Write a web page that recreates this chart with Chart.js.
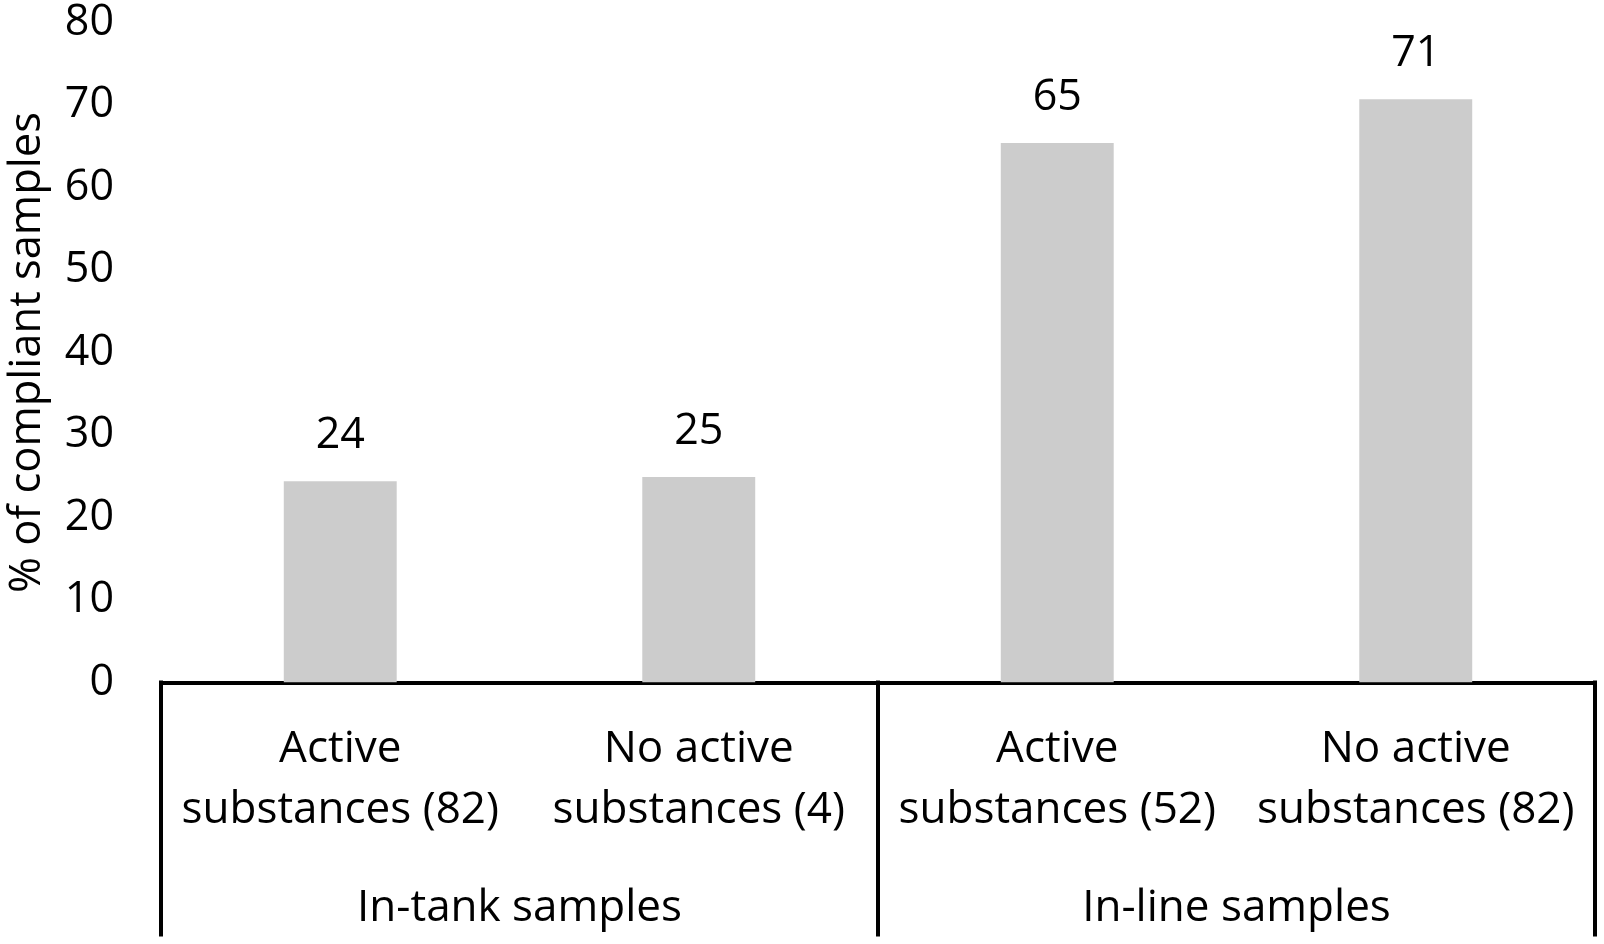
<!DOCTYPE html>
<html>
<head>
<meta charset="utf-8">
<script src="https://cdn.jsdelivr.net/npm/chart.js@4.4.1/dist/chart.umd.min.js"></script>
<style>
html,body{margin:0;padding:0;background:#fff;}
#wrap{width:1604px;height:944px;position:relative;}
</style>
</head>
<body>
<div id="wrap"><canvas id="c"></canvas></div>
<script>
const categories = [
  ["Active", "substances (82)"],
  ["No active", "substances (4)"],
  ["Active", "substances (52)"],
  ["No active", "substances (82)"]
];
const groups = ["In-tank samples", "In-line samples"];
const groupSpans = [[0, 1], [2, 3]];
const values = [24.4, 24.9, 65.4, 70.7];
const valueLabels = ["24", "25", "65", "71"];
const yTicks = [0, 10, 20, 30, 40, 50, 60, 70, 80];
const yTitle = "% of compliant samples";

const FONT = "'Open Sans', sans-serif";
const FS = 43;
const FS_CAT = 44;

const annotate = {
  id: 'annotate',
  afterDatasetsDraw(chart) {
    const ctx = chart.ctx;
    const meta = chart.getDatasetMeta(0);
    const x = chart.scales.x;
    const area = chart.chartArea;
    ctx.save();
    ctx.fillStyle = '#000';
    ctx.textAlign = 'center';
    ctx.textBaseline = 'alphabetic';
    // value labels
    ctx.font = FS + 'px ' + FONT;
    meta.data.forEach((bar, i) => {
      ctx.fillText(valueLabels[i], bar.x, bar.y - 33);
    });
    // category labels
    ctx.font = FS_CAT + 'px ' + FONT;
    categories.forEach((lines, i) => {
      const px = x.getPixelForValue(i);
      lines.forEach((t, j) => {
        ctx.fillText(t, px, area.bottom + 79 + j * 61.5);
      });
    });
    // group labels
    groups.forEach((g, k) => {
      const a = x.getPixelForValue(groupSpans[k][0]);
      const b = x.getPixelForValue(groupSpans[k][1]);
      ctx.fillText(g, (a + b) / 2, area.bottom + 238);
    });
    // separator lines
    const half = (x.getPixelForValue(1) - x.getPixelForValue(0)) / 2;
    const seps = [x.getPixelForValue(0) - half, x.getPixelForValue(1) + half, x.getPixelForValue(3) + half];
    ctx.strokeStyle = '#000';
    ctx.lineWidth = 4;
    seps.forEach(sx => {
      ctx.beginPath();
      ctx.moveTo(sx, area.bottom - 2);
      ctx.lineTo(sx, area.bottom + 254);
      ctx.stroke();
    });
    ctx.restore();
  }
};

new Chart(document.getElementById('c'), {
  type: 'bar',
  data: {
    labels: categories,
    datasets: [{
      data: values,
      backgroundColor: '#cccccc',
      borderWidth: 0,
      categoryPercentage: 1,
      barPercentage: 0.315
    }]
  },
  options: {
    responsive: true,
    maintainAspectRatio: false,
    animation: false,
    devicePixelRatio: 1,
    layout: { padding: { top: 22.5, right: 9, left: 0, bottom: 0 } },
    plugins: { legend: { display: false }, tooltip: { enabled: false } },
    scales: {
      x: {
        grid: { display: false },
        border: { display: true, color: '#000', width: 4 },
        ticks: { display: false },
        afterFit(s) { s.height = 261.5; }
      },
      y: {
        min: 0,
        max: 80,
        afterBuildTicks(s) { s.ticks = yTicks.map(v => ({ value: v })); },
        grid: { display: false, drawTicks: true, tickLength: 47 },
        border: { display: false },
        ticks: {
          color: '#000',
          padding: 0,
          font: { family: FONT, size: FS, lineHeight: 1 }
        },
        title: {
          display: true,
          text: yTitle,
          color: '#000',
          padding: { top: 2, bottom: 0 },
          font: { family: FONT, size: 43.5, lineHeight: 1.2 }
        },
        afterFit(s) { s.width = 161; }
      }
    }
  },
  plugins: [annotate]
});
</script>
</body>
</html>
